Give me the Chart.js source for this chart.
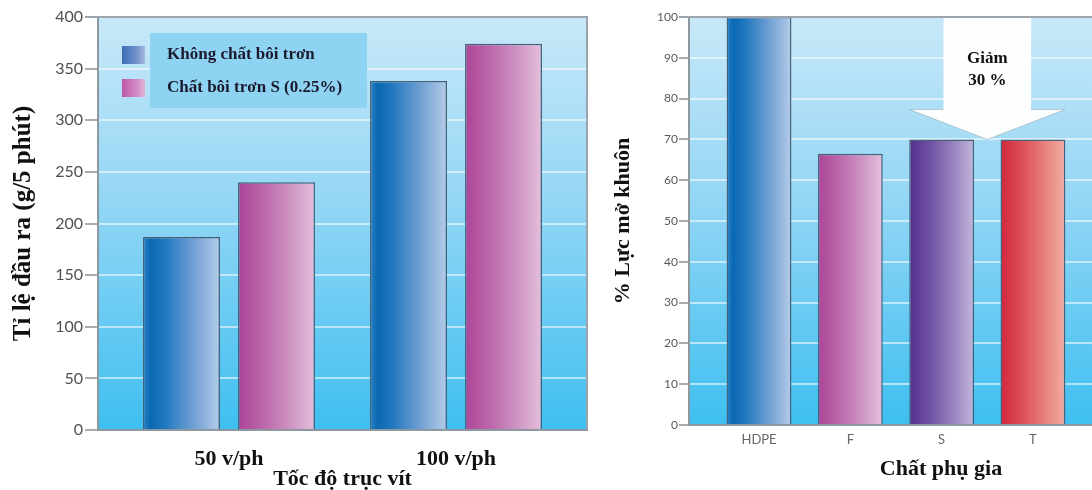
<!DOCTYPE html>
<html lang="vi">
<head>
<meta charset="utf-8">
<title>Tốc độ trục vít và lực mở khuôn</title>
<script src="https://cdn.jsdelivr.net/npm/chart.js@4.4.1/dist/chart.umd.min.js"></script>
<style>
  html, body { margin: 0; padding: 0; background: #ffffff; width: 1092px; height: 490px; overflow: hidden; }
  #wrap { position: relative; width: 1092px; height: 490px; overflow: hidden; }
  #outputChart { position: absolute; left: 0; top: 0; }
  #forceChart { position: absolute; left: 600px; top: 0; }
</style>
</head>
<body>
<div id="wrap">
  <canvas id="outputChart" width="600" height="490"></canvas>
  <canvas id="forceChart" width="593" height="490"></canvas>
</div>
<script>
// ---- Left chart: output rate vs. screw speed ----
const speeds = ['50 v/ph', '100 v/ph'];
const seriesNames = ['Không chất bôi trơn', 'Chất bôi trơn S (0.25%)'];
const outputNoLube = [187, 338];
const outputLubeS = [240, 374];
const outputTicks = [0, 50, 100, 150, 200, 250, 300, 350, 400];

// ---- Right chart: mould opening force by additive ----
const additives = ['HDPE', 'F', 'S', 'T'];
const openingForce = [100, 66.5, 70, 70];
const forceTicks = [0, 10, 20, 30, 40, 50, 60, 70, 80, 90, 100];

const SERIF = '"Liberation Serif", "Times New Roman", serif';
const SANS = 'Lato, "Open Sans", sans-serif';

// Horizontal bar shadings (left edge -> right edge)
const BLUE = [[0, '#2a80c4'], [0.1, '#0a69b3'], [0.3, '#2479c0'], [0.65, '#6f9fd3'], [1, '#b5cce9']];
const PINK = [[0, '#ad4499'], [0.35, '#bd6aac'], [0.7, '#cf97c4'], [1, '#e5c0dc']];
const PURPLE = [[0, '#55308f'], [0.35, '#7255a4'], [0.7, '#9a86c0'], [1, '#c4b6dc']];
const RED = [[0, '#d2263c'], [0.35, '#dd5158'], [0.7, '#e8847f'], [1, '#f2aca4']];
const ADDITIVE_SHADES = [BLUE, PINK, PURPLE, RED];

function shade(stops) {
  return (c) => {
    const el = c.element;
    if (c.type !== 'data' || !el || !isFinite(el.x) || !isFinite(el.width)) return stops[1][1];
    const g = c.chart.ctx.createLinearGradient(el.x - el.width / 2, 0, el.x + el.width / 2, 0);
    stops.forEach(([o, col]) => g.addColorStop(o, col));
    return g;
  };
}

// Sky-blue plot panel behind the grid
const plotBackground = {
  id: 'plotBackground',
  beforeDraw(chart) {
    const { ctx, chartArea: a } = chart;
    const g = ctx.createLinearGradient(0, a.top, 0, a.bottom);
    g.addColorStop(0, '#c8e8f8');
    g.addColorStop(0.45, '#93d6f5');
    g.addColorStop(1, '#3ebff0');
    ctx.save();
    ctx.fillStyle = g;
    ctx.fillRect(a.left, a.top, a.right - a.left, a.bottom - a.top);
    ctx.restore();
  }
};

// Grey frame lines along the top (and optionally right) of the panel
const panelFrame = {
  id: 'panelFrame',
  afterDraw(chart, args, opts) {
    const { ctx, chartArea: a } = chart;
    const tickLen = chart.scales.y.options.grid.tickLength;
    ctx.save();
    ctx.strokeStyle = '#9aa4aa';
    ctx.lineWidth = 2;
    ctx.beginPath();
    ctx.moveTo(a.left - tickLen, a.top);
    ctx.lineTo(a.right, a.top);
    if (opts.right) {
      ctx.lineTo(a.right, a.bottom);
    }
    ctx.stroke();
    ctx.restore();
  }
};

// Series key drawn inside the left panel
const seriesKey = {
  id: 'seriesKey',
  beforeDatasetsDraw(chart) {
    const { ctx, chartArea: a } = chart;
    ctx.save();
    ctx.fillStyle = '#8fd3f3';
    ctx.fillRect(a.left + 52, a.top + 16, 217, 75);
    chart.data.datasets.forEach((ds, i) => {
      const cy = a.top + 38 + i * 33;
      const sx = a.left + 24, sw = 23, sh = 18;
      const g = ctx.createLinearGradient(sx, 0, sx + sw, 0);
      ds.keyStops.forEach(([o, col]) => g.addColorStop(o, col));
      ctx.fillStyle = g;
      ctx.fillRect(sx, cy - sh / 2, sw, sh);
      ctx.fillStyle = '#1a1a2c';
      ctx.font = 'bold 17px ' + SERIF;
      ctx.textBaseline = 'middle';
      ctx.textAlign = 'left';
      ctx.fillText(ds.label, a.left + 69, cy);
    });
    ctx.restore();
  }
};

// White arrow pointing at the S / T bars with the reduction label
const reductionArrow = {
  id: 'reductionArrow',
  afterDatasetsDraw(chart) {
    const { ctx, chartArea: a } = chart;
    const xs = chart.scales.x, ys = chart.scales.y;
    const iA = additives.indexOf('S'), iB = additives.indexOf('T');
    const reference = openingForce[additives.indexOf('HDPE')];
    const target = Math.max(openingForce[iA], openingForce[iB]);
    const tipX = xs.getPixelForValue((iA + iB) / 2);
    const tipY = ys.getPixelForValue(target);
    const unit = xs.getPixelForValue(1) - xs.getPixelForValue(0);
    const shaftHalf = unit * 0.48, headHalf = unit * 0.85;
    const neckY = ys.getPixelForValue(target + 7.3);
    ctx.save();
    ctx.beginPath();
    ctx.moveTo(tipX - shaftHalf, a.top);
    ctx.lineTo(tipX + shaftHalf, a.top);
    ctx.lineTo(tipX + shaftHalf, neckY);
    ctx.lineTo(tipX + headHalf, neckY);
    ctx.lineTo(tipX, tipY);
    ctx.lineTo(tipX - headHalf, neckY);
    ctx.lineTo(tipX - shaftHalf, neckY);
    ctx.closePath();
    ctx.fillStyle = '#fdfefe';
    ctx.fill();
    ctx.strokeStyle = 'rgba(150,165,175,0.55)';
    ctx.lineWidth = 1;
    ctx.beginPath();
    ctx.moveTo(tipX - shaftHalf, neckY);
    ctx.lineTo(tipX - headHalf, neckY);
    ctx.lineTo(tipX, tipY);
    ctx.lineTo(tipX + headHalf, neckY);
    ctx.lineTo(tipX + shaftHalf, neckY);
    ctx.stroke();
    ctx.fillStyle = '#111';
    ctx.font = 'bold 17px ' + SERIF;
    ctx.textAlign = 'center';
    ctx.textBaseline = 'middle';
    ctx.fillText('Giảm', tipX, a.top + 42);
    ctx.fillText(Math.round(reference - target) + ' %', tipX, a.top + 64);
    ctx.restore();
  }
};

const gridStyle = {
  color: 'rgba(255,255,255,0.55)',
  lineWidth: 2,
  tickColor: '#8c9296',
  tickWidth: 1.5,
  drawTicks: true
};
const axisBorder = { display: true, color: '#8d989f', width: 2 };
const titleFont = (size) => ({ family: SERIF, size, weight: 'bold', lineHeight: 1 });

const outputChart = new Chart(document.getElementById('outputChart'), {
  type: 'bar',
  data: {
    datasets: [
      {
        label: seriesNames[0],
        data: speeds.map((_, i) => ({ x: i, y: outputNoLube[i] })),
        backgroundColor: shade(BLUE),
        keyStops: [[0, '#3d6db5'], [0.6, '#6f8fca'], [1, '#a3b9e0']]
      },
      {
        label: seriesNames[1],
        data: speeds.map((_, i) => ({ x: i, y: outputLubeS[i] })),
        backgroundColor: shade(PINK),
        keyStops: [[0, '#bd58a6'], [0.6, '#d088c2'], [1, '#e3b2d8']]
      }
    ]
  },
  options: {
    responsive: false,
    animation: false,
    layout: { padding: { top: 17, right: 13, left: 0, bottom: 0 } },
    datasets: {
      bar: {
        categoryPercentage: 0.837,
        barPercentage: 0.81,
        borderWidth: 1.5,
        borderColor: '#46627a',
        borderSkipped: 'bottom'
      }
    },
    scales: {
      x: {
        type: 'linear',
        offset: false,
        min: -0.577,
        max: speeds.length - 1 + 0.577,
        afterBuildTicks: (s) => { s.ticks = speeds.map((_, i) => ({ value: i })); },
        afterFit: (s) => { s.height = 60; },
        ticks: {
          callback: (v) => speeds[v] ?? '',
          font: { family: SERIF, size: 22, weight: 'bold' },
          color: '#111',
          padding: 16,
          autoSkip: false,
          maxRotation: 0
        },
        grid: { display: false, drawTicks: false },
        border: axisBorder,
        title: { display: true, text: 'Tốc độ trục vít', font: titleFont(22), color: '#111', padding: { top: 0, bottom: 0 } }
      },
      y: {
        min: 0,
        max: 400,
        afterBuildTicks: (s) => { s.ticks = outputTicks.map((v) => ({ value: v })); },
        afterFit: (s) => { s.width = 98; },
        ticks: { font: { family: SANS, size: 16 }, color: '#4f4f4f', padding: 2 },
        grid: { ...gridStyle, tickLength: 13 },
        border: axisBorder,
        title: { display: true, text: 'Tỉ lệ đầu ra (g/5 phút)', font: titleFont(25), color: '#111', padding: { top: 11, bottom: 0 } }
      }
    },
    plugins: {
      legend: { display: false },
      tooltip: { enabled: false },
      panelFrame: { right: true }
    }
  },
  plugins: [plotBackground, seriesKey, panelFrame]
});

const forceChart = new Chart(document.getElementById('forceChart'), {
  type: 'bar',
  data: {
    datasets: [
      {
        label: '% Lực mở khuôn',
        data: additives.map((_, i) => ({ x: i, y: openingForce[i] })),
        backgroundColor: (c) => shade(ADDITIVE_SHADES[c.dataIndex % ADDITIVE_SHADES.length])(c)
      }
    ]
  },
  options: {
    responsive: false,
    animation: false,
    layout: { padding: { top: 17, right: 0, left: 0, bottom: 0 } },
    datasets: {
      bar: {
        categoryPercentage: 1,
        barPercentage: 0.71,
        borderWidth: 1.5,
        borderColor: '#46627a',
        borderSkipped: 'bottom'
      }
    },
    scales: {
      x: {
        type: 'linear',
        offset: false,
        min: -0.767,
        max: 4.753,
        afterBuildTicks: (s) => { s.ticks = additives.map((_, i) => ({ value: i })); },
        afterFit: (s) => { s.height = 65; },
        ticks: {
          callback: (v) => additives[v] ?? '',
          font: { family: SANS, size: 13 },
          color: '#666',
          padding: 7,
          autoSkip: false,
          maxRotation: 0
        },
        grid: { display: false, drawTicks: false },
        border: axisBorder,
        title: { display: true, text: 'Chất phụ gia', font: titleFont(22), color: '#111', padding: { top: 0, bottom: 10 } }
      },
      y: {
        min: 0,
        max: 100,
        afterBuildTicks: (s) => { s.ticks = forceTicks.map((v) => ({ value: v })); },
        afterFit: (s) => { s.width = 89; },
        ticks: { font: { family: SANS, size: 12 }, color: '#5a5a5a', padding: 1 },
        grid: { ...gridStyle, tickLength: 10 },
        border: axisBorder,
        title: { display: true, text: '% Lực mở khuôn', font: titleFont(22), color: '#111', padding: { top: 12, bottom: 0 } }
      }
    },
    plugins: {
      legend: { display: false },
      tooltip: { enabled: false },
      panelFrame: { right: false }
    }
  },
  plugins: [plotBackground, reductionArrow, panelFrame]
});

// Second pass so the bar shadings follow the laid-out bar positions
outputChart.update();
forceChart.update();
</script>
</body>
</html>
